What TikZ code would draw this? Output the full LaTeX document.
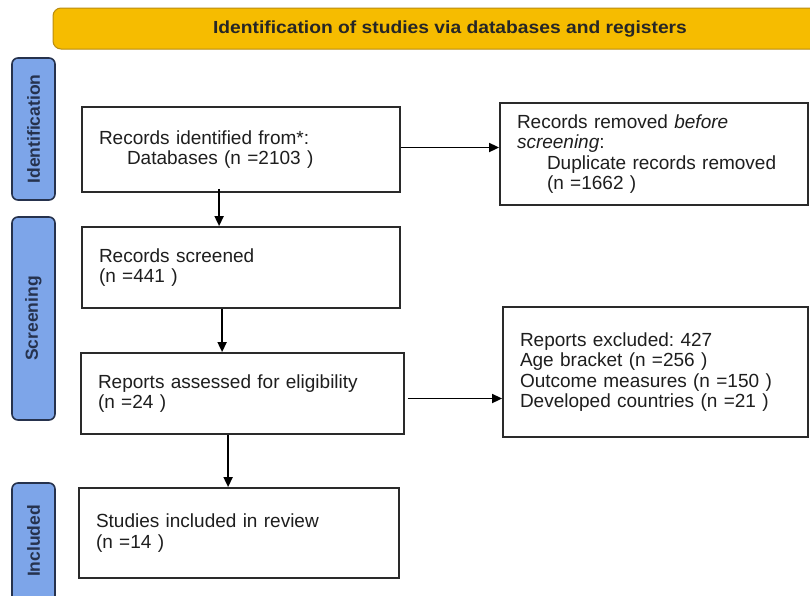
\documentclass[tikz,border=0pt]{standalone}
\usepackage{fontspec}
\setmainfont{Liberation Sans}
\newfontfamily\titlefnt[FakeStretch=1.1]{Liberation Sans}
\usetikzlibrary{arrows.meta,calc}
\definecolor{bannerfill}{HTML}{F6BC00}
\definecolor{bannerdraw}{HTML}{B98C10}
\definecolor{sidefill}{HTML}{7DA5E9}
\definecolor{sidedraw}{HTML}{26324D}
\definecolor{boxc}{HTML}{2A2A2A}
\definecolor{txt}{HTML}{1E1E1E}
\tikzset{
  flowbox/.style={draw=boxc, line width=1.8pt, rectangle, align=left, inner xsep=17pt, inner ysep=0pt,
    text=txt, font=\frenchspacing\fontsize{19}{20.5}\selectfont},
  sidebox/.style={draw=sidedraw, fill=sidefill, line width=1.6pt, rounded corners=6pt},
  sidelabel/.style={rotate=90, font=\fontsize{17.5}{20}\selectfont\bfseries, text=sidedraw, inner sep=0pt},
  arr/.style={draw=black, line width=1.7pt, -{Triangle[length=10pt,width=9pt]}},
}
\begin{document}
\begin{tikzpicture}[x=1pt,y=-1pt]
\useasboundingbox[fill=white] (0,0) rectangle (810,595);
% banner
\node[draw=bannerdraw, fill=bannerfill, line width=1pt, rounded corners=8pt, minimum width=790pt, minimum height=41pt, inner sep=0pt] (banner) at (448,28.5) {};
\node[font=\titlefnt\fontsize{17.5}{20}\selectfont\bfseries, text=black!85] (title) at (450,29.5) {Identification of studies via databases and registers};
% side labels
\node[sidebox, minimum width=43pt, minimum height=142pt, inner sep=0pt] (sideid) at (33.5,129) {};
\node[sidelabel] (sideidt) at (sideid.center) {Identification};
\node[sidebox, minimum width=43pt, minimum height=203pt, inner sep=0pt] (sidesc) at (33.5,318.5) {};
\node[sidelabel] (sidesct) at (sidesc.center) {Screening};
\node[sidebox, minimum width=43pt, minimum height=140pt, inner sep=0pt] (sidein) at (33.5,553) {};
\node[sidelabel] (sideint) at (33.5,541) {Included};
% boxes
\node[flowbox, minimum width=318pt, minimum height=85pt, text width=284pt] (ident) at (241,149.5)
  {Records identified from*:\\\hspace*{28pt}Databases (n =2103 )};
\node[flowbox, minimum width=308pt, minimum height=102pt, text width=274pt] (removed) at (654,154)
  {Records removed \textit{before}\\\textit{screening}:\\\hspace*{30pt}Duplicate records removed\\\hspace*{30pt}(n =1662 )};
\node[flowbox, minimum width=318pt, minimum height=81pt, text width=284pt] (screened) at (241,267.5)
  {Records screened\\(n =441 )};
\node[flowbox, minimum width=323pt, minimum height=81pt, text width=289pt] (assessed) at (242.5,393.5)
  {Reports assessed for eligibility\\(n =24 )};
\node[flowbox, minimum width=305pt, minimum height=130pt, text width=271pt] (excluded) at (655.5,372)
  {Reports excluded: 427\\Age bracket (n =256 )\\Outcome measures (n =150 )\\Developed countries (n =21 )};
\node[flowbox, minimum width=320pt, minimum height=90pt, text width=286pt] (included) at (239,533)
  {Studies included in review\\(n =14 )};
% connectors
\draw[arr] ([yshift=2pt]ident.east) -- ([yshift=2pt]ident.east -| removed.west);
\draw[arr] ([xshift=138pt,yshift=4pt]ident.south west) -- ([xshift=138pt]ident.south west |- screened.north);
\draw[arr] ([xshift=141pt]screened.south west) -- ([xshift=141pt]screened.south west |- assessed.north);
\draw[arr] ([xshift=148pt]assessed.south west) -- ([xshift=148pt]assessed.south west |- included.north);
\draw[arr] ([xshift=3pt,yshift=-5pt]assessed.east) -- ([yshift=-5pt]assessed.east -| excluded.west);
\end{tikzpicture}
\end{document}
